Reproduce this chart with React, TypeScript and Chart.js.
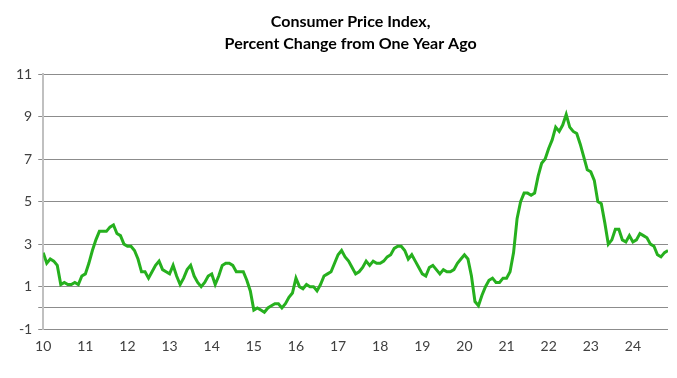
import React, { useEffect, useRef } from "react";
import { Chart, registerables } from "chart.js";
Chart.register(...registerables);

const titleLines = ["Consumer Price Index,", "Percent Change from One Year Ago"];
const yearTickLabels = ["10", "11", "12", "13", "14", "15", "16", "17", "18", "19", "20", "21", "22", "23", "24"];
const yTicks = [-1, 0, 1, 3, 5, 7, 9, 11];

const cpi2010 = [2.6, 2.1, 2.3, 2.2, 2.0, 1.1, 1.2, 1.1, 1.1, 1.2, 1.1, 1.5];
const cpi2011 = [1.6, 2.1, 2.7, 3.2, 3.6, 3.6, 3.6, 3.8, 3.9, 3.5, 3.4, 3.0];
const cpi2012 = [2.9, 2.9, 2.7, 2.3, 1.7, 1.7, 1.4, 1.7, 2.0, 2.2, 1.8, 1.7];
const cpi2013 = [1.6, 2.0, 1.5, 1.1, 1.4, 1.8, 2.0, 1.5, 1.2, 1.0, 1.2, 1.5];
const cpi2014 = [1.6, 1.1, 1.5, 2.0, 2.1, 2.1, 2.0, 1.7, 1.7, 1.7, 1.3, 0.8];
const cpi2015 = [-0.1, 0.0, -0.1, -0.2, 0.0, 0.1, 0.2, 0.2, 0.0, 0.2, 0.5, 0.7];
const cpi2016 = [1.4, 1.0, 0.9, 1.1, 1.0, 1.0, 0.8, 1.1, 1.5, 1.6, 1.7, 2.1];
const cpi2017 = [2.5, 2.7, 2.4, 2.2, 1.9, 1.6, 1.7, 1.9, 2.2, 2.0, 2.2, 2.1];
const cpi2018 = [2.1, 2.2, 2.4, 2.5, 2.8, 2.9, 2.9, 2.7, 2.3, 2.5, 2.2, 1.9];
const cpi2019 = [1.6, 1.5, 1.9, 2.0, 1.8, 1.6, 1.8, 1.7, 1.7, 1.8, 2.1, 2.3];
const cpi2020 = [2.5, 2.3, 1.5, 0.3, 0.1, 0.6, 1.0, 1.3, 1.4, 1.2, 1.2, 1.4];
const cpi2021 = [1.4, 1.7, 2.6, 4.2, 5.0, 5.4, 5.4, 5.3, 5.4, 6.2, 6.8, 7.0];
const cpi2022 = [7.5, 7.9, 8.5, 8.3, 8.6, 9.1, 8.5, 8.3, 8.2, 7.7, 7.1, 6.5];
const cpi2023 = [6.4, 6.0, 5.0, 4.9, 4.0, 3.0, 3.2, 3.7, 3.7, 3.2, 3.1, 3.4];
const cpi2024 = [3.1, 3.2, 3.5, 3.4, 3.3, 3.0, 2.9, 2.5, 2.4, 2.6, 2.7];

const cpiValues = [
  ...cpi2010, ...cpi2011, ...cpi2012, ...cpi2013, ...cpi2014,
  ...cpi2015, ...cpi2016, ...cpi2017, ...cpi2018, ...cpi2019,
  ...cpi2020, ...cpi2021, ...cpi2022, ...cpi2023, ...cpi2024,
];

const LINE_COLOR = "#26b01e";
const GRID_COLOR = "#8c8c8c";
const TEXT_COLOR = "#404040";
const FONT = "Lato, 'Liberation Sans', sans-serif";

const titlePlugin = {
  id: "customTitle",
  afterDraw(chart: any) {
    const ctx = chart.ctx;
    const area = chart.chartArea;
    const cx = (area.left + area.right) / 2 - 5;
    ctx.save();
    ctx.fillStyle = "#000000";
    ctx.font = `bold 16px ${FONT}`;
    ctx.textAlign = "center";
    ctx.textBaseline = "middle";
    titleLines.forEach((line, i) => {
      ctx.fillText(line, cx, 22 + i * 22);
    });
    ctx.restore();
  },
};

export default function App() {
  const ref = useRef<HTMLCanvasElement | null>(null);

  useEffect(() => {
    document.body.style.margin = "0";
    const canvas = ref.current;
    if (!canvas) return;
    const points = cpiValues.map((v, i) => ({ x: i, y: v }));
    const chart = new Chart(canvas, {
      type: "line",
      data: {
        datasets: [
          {
            data: points,
            borderColor: LINE_COLOR,
            borderWidth: 3,
            pointRadius: 0,
            tension: 0,
            fill: false,
          },
        ],
      },
      plugins: [titlePlugin],
      options: {
        responsive: false,
        animation: false,
        layout: { padding: { left: 10, right: 9, top: 74, bottom: 14 } },
        plugins: {
          legend: { display: false },
          tooltip: { enabled: false },
          title: { display: false },
        },
        scales: {
          x: {
            type: "linear",
            min: 0,
            max: cpiValues.length - 1,
            grid: { display: false, drawTicks: false },
            border: { display: false },
            afterBuildTicks: (axis: any) => {
              axis.ticks = yearTickLabels.map((_, i) => ({ value: i * 12 }));
            },
            ticks: {
              autoSkip: false,
              maxRotation: 0,
              padding: 9,
              color: TEXT_COLOR,
              font: { family: FONT, size: 14 },
              callback: (v: any) => {
                const idx = Math.round(Number(v) / 12);
                return yearTickLabels[idx] ?? "";
              },
            },
          },
          y: {
            min: -1,
            max: 11,
            afterBuildTicks: (axis: any) => {
              axis.ticks = yTicks.map((v) => ({ value: v }));
            },
            grid: {
              color: GRID_COLOR,
              lineWidth: 1,
              drawTicks: true,
              tickLength: 5,
            },
            border: { display: true, color: "#c0c0c0", width: 2 },
            ticks: {
              autoSkip: false,
              padding: 6,
              color: TEXT_COLOR,
              font: { family: FONT, size: 14 },
              callback: (v: any) => (Number(v) === 0 ? "" : String(v)),
            },
          },
        },
      },
    });
    return () => chart.destroy();
  }, []);

  return <canvas ref={ref} width={677} height={378} style={{ display: "block" }} />;
}
